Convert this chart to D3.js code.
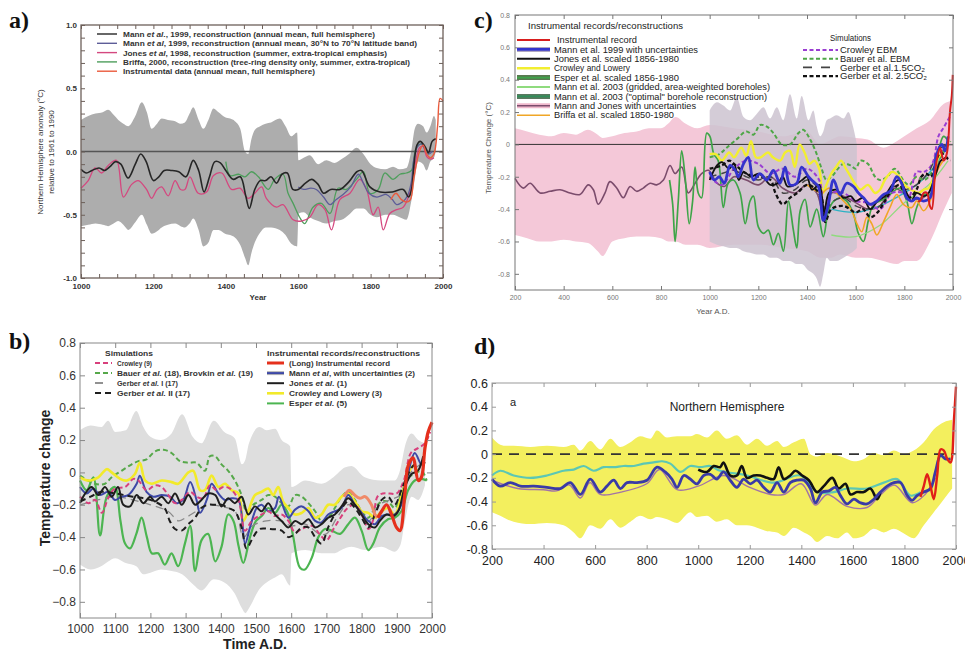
<!DOCTYPE html>
<html>
<head>
<meta charset="utf-8">
<script src="https://cdn.jsdelivr.net/npm/d3@7"></script>
<style>
body { margin: 0; background: #fff; }
svg { display: block; }
text { font-family: "Liberation Sans", Arial, sans-serif; }
</style>
</head>
<body>
<script>
// ---------------- panel a) data ----------------
const aXTicks = [1000, 1200, 1400, 1600, 1800, 2000];
const aYTicks = [-1, -0.5, 0, 0.5, 1];
// [year, lower, upper]
const aBand = [[1000,-0.59,0.25],[1020,-0.58,0.28],[1040,-0.57,0.3],[1060,-0.58,0.31],[1075,-0.59,0.33],[1090,-0.57,0.29],[1103,-0.55,0.25],[1117,-0.58,0.22],[1131,-0.62,0.2],[1150,-0.56,0.28],[1168,-0.5,0.39],[1182,-0.58,0.31],[1195,-0.65,0.18],[1210,-0.63,0.22],[1223,-0.6,0.26],[1240,-0.58,0.25],[1260,-0.57,0.24],[1275,-0.59,0.22],[1287,-0.6,0.23],[1300,-0.57,0.3],[1310,-0.53,0.35],[1325,-0.62,0.25],[1338,-0.75,0.18],[1352,-0.72,0.25],[1366,-0.62,0.34],[1380,-0.62,0.31],[1398,-0.65,0.27],[1412,-0.66,0.26],[1425,-0.68,0.24],[1440,-0.74,0.18],[1453,-0.84,0.0],[1462,-0.9,-0.02],[1471,-0.8,0.1],[1480,-0.72,0.17],[1495,-0.64,0.2],[1510,-0.6,0.22],[1525,-0.6,0.23],[1549,-0.62,0.26],[1565,-0.66,0.2],[1581,-0.73,0.12],[1597,-0.75,0.15],[1601,-0.49,-0.07],[1615,-0.48,-0.05],[1632,-0.52,-0.03],[1655,-0.55,-0.1],[1678,-0.57,-0.07],[1700,-0.55,-0.09],[1720,-0.54,-0.06],[1740,-0.5,-0.02],[1761,-0.45,0.03],[1780,-0.45,-0.02],[1800,-0.5,-0.1],[1817,-0.52,-0.13],[1840,-0.5,-0.14],[1862,-0.5,-0.12],[1880,-0.52,-0.14],[1899,-0.54,-0.13],[1912,-0.4,0.0],[1922,-0.22,0.18],[1931,-0.08,0.22],[1945,-0.1,0.2],[1955,-0.15,0.15],[1965,-0.08,0.2],[1975,-0.05,0.28],[1980,0.0,0.25]];
const aMannNH = [[1000,-0.14],[1015,-0.17],[1030,-0.15],[1050,-0.13],[1065,-0.15],[1080,-0.12],[1095,-0.08],[1110,-0.1],[1130,-0.21],[1150,-0.1],[1165,-0.02],[1180,-0.08],[1200,-0.23],[1215,-0.2],[1230,-0.15],[1250,-0.15],[1270,-0.16],[1290,-0.2],[1310,-0.07],[1325,-0.15],[1340,-0.32],[1355,-0.2],[1370,-0.08],[1385,-0.09],[1400,-0.15],[1420,-0.22],[1440,-0.2],[1455,-0.35],[1465,-0.45],[1480,-0.3],[1495,-0.23],[1510,-0.23],[1525,-0.2],[1540,-0.25],[1555,-0.18],[1570,-0.17],[1585,-0.3],[1600,-0.3],[1620,-0.25],[1637,-0.22],[1655,-0.26],[1670,-0.33],[1690,-0.3],[1715,-0.3],[1740,-0.24],[1762,-0.16],[1775,-0.15],[1798,-0.28],[1826,-0.32],[1860,-0.32],[1890,-0.3],[1905,-0.36],[1913,-0.3],[1920,-0.1],[1928,0.05],[1937,0.08],[1950,0.04],[1960,-0.01],[1970,0.08],[1980,0.1]];
const aMannBand = [[1600,-0.28],[1615,-0.3],[1635,-0.29],[1650,-0.3],[1670,-0.36],[1688,-0.42],[1705,-0.38],[1724,-0.34],[1745,-0.28],[1766,-0.18],[1780,-0.25],[1795,-0.33],[1817,-0.36],[1844,-0.34],[1860,-0.38],[1872,-0.42],[1888,-0.4],[1902,-0.35],[1912,-0.25],[1920,-0.05],[1930,0.04],[1940,0.06],[1950,0.02],[1960,-0.02],[1970,0.0]];
const aJones = [[1000,-0.29],[1020,-0.23],[1039,-0.13],[1057,-0.17],[1075,-0.11],[1098,-0.07],[1117,-0.36],[1140,-0.26],[1158,-0.23],[1181,-0.3],[1195,-0.37],[1210,-0.3],[1223,-0.28],[1241,-0.35],[1260,-0.23],[1275,-0.3],[1287,-0.3],[1301,-0.2],[1324,-0.33],[1347,-0.32],[1366,-0.19],[1389,-0.17],[1416,-0.3],[1439,-0.29],[1462,-0.37],[1480,-0.33],[1499,-0.28],[1512,-0.37],[1540,-0.44],[1558,-0.42],[1586,-0.54],[1609,-0.55],[1632,-0.52],[1655,-0.42],[1674,-0.46],[1692,-0.62],[1715,-0.38],[1743,-0.33],[1770,-0.22],[1789,-0.3],[1807,-0.5],[1821,-0.44],[1835,-0.62],[1853,-0.49],[1872,-0.46],[1890,-0.44],[1908,-0.33],[1920,-0.15],[1935,0.03],[1945,0.04],[1955,-0.04],[1965,-0.06],[1975,-0.05]];
const aBriffa = [[1400,-0.08],[1412,-0.19],[1435,-0.18],[1453,-0.2],[1471,-0.16],[1490,-0.2],[1517,-0.3],[1535,-0.22],[1558,-0.18],[1572,-0.33],[1586,-0.41],[1604,-0.52],[1618,-0.57],[1641,-0.44],[1664,-0.41],[1688,-0.49],[1710,-0.29],[1733,-0.3],[1761,-0.22],[1780,-0.16],[1798,-0.33],[1821,-0.3],[1839,-0.17],[1862,-0.22],[1881,-0.18],[1899,-0.17],[1913,-0.15],[1925,0.02],[1940,0.06],[1955,0.0],[1960,-0.02]];
const aInstr = [[1856,-0.38],[1870,-0.33],[1885,-0.38],[1900,-0.4],[1910,-0.38],[1920,-0.2],[1935,0.0],[1945,0.05],[1955,-0.02],[1965,-0.05],[1975,-0.02],[1985,0.2],[1992,0.42],[2000,0.4]];

// ---------------- panel b) data ----------------
const bXTicks = [1000,1100,1200,1300,1400,1500,1600,1700,1800,1900,2000];
const bYTicks = [-0.8,-0.6,-0.4,-0.2,0,0.2,0.4,0.6,0.8];
const bBand = [[1000,-0.57,0.26],[1030,-0.6,0.29],[1060,-0.58,0.28],[1080,-0.55,0.32],[1100,-0.53,0.25],[1130,-0.56,0.26],[1160,-0.58,0.38],[1180,-0.63,0.28],[1200,-0.62,0.22],[1230,-0.6,0.2],[1260,-0.61,0.24],[1290,-0.63,0.36],[1320,-0.69,0.22],[1345,-0.73,0.18],[1380,-0.66,0.32],[1410,-0.68,0.25],[1440,-0.75,0.21],[1460,-0.84,0.05],[1470,-0.87,0.08],[1480,-0.84,0.18],[1510,-0.72,0.28],[1530,-0.68,0.26],[1554,-0.65,0.27],[1573,-0.63,0.2],[1597,-0.7,0.16],[1601,-0.5,-0.09],[1640,-0.48,-0.05],[1686,-0.5,-0.07],[1720,-0.5,-0.03],[1752,-0.47,0.03],[1771,-0.46,0.04],[1809,-0.48,-0.03],[1856,-0.46,-0.05],[1894,-0.49,-0.05],[1910,-0.45,0.02],[1923,-0.3,0.16],[1942,-0.15,0.24],[1961,-0.17,0.2],[1980,-0.08,0.18]];
const bEsper = [[1000,-0.05],[1019,-0.11],[1038,-0.03],[1057,-0.39],[1076,-0.15],[1099,-0.09],[1115,-0.3],[1128,-0.44],[1142,-0.47],[1160,-0.38],[1175,-0.28],[1190,-0.4],[1204,-0.5],[1222,-0.5],[1241,-0.57],[1260,-0.5],[1279,-0.58],[1298,-0.44],[1313,-0.33],[1327,-0.61],[1345,-0.42],[1364,-0.38],[1384,-0.55],[1402,-0.46],[1421,-0.26],[1436,-0.3],[1450,-0.45],[1464,-0.56],[1483,-0.4],[1500,-0.3],[1516,-0.27],[1535,-0.22],[1554,-0.25],[1573,-0.2],[1592,-0.26],[1606,-0.4],[1625,-0.59],[1639,-0.6],[1658,-0.53],[1677,-0.4],[1696,-0.35],[1715,-0.36],[1739,-0.38],[1762,-0.32],[1781,-0.28],[1800,-0.36],[1819,-0.48],[1833,-0.44],[1852,-0.34],[1875,-0.29],[1894,-0.28],[1913,-0.24],[1932,-0.11],[1951,-0.05],[1970,-0.04],[1985,-0.05]];
const bCrowleyLowery = [[1000,-0.03],[1024,-0.05],[1052,-0.03],[1076,0.02],[1090,0.0],[1114,-0.04],[1133,-0.05],[1156,-0.01],[1170,0.06],[1185,-0.05],[1204,-0.07],[1232,-0.05],[1260,-0.06],[1279,-0.07],[1308,0.0],[1322,0.01],[1341,-0.11],[1355,-0.11],[1374,-0.02],[1393,-0.09],[1412,-0.07],[1431,-0.11],[1450,-0.13],[1464,-0.3],[1478,-0.24],[1497,-0.14],[1516,-0.12],[1535,-0.1],[1549,-0.14],[1563,-0.09],[1577,-0.18],[1592,-0.22],[1611,-0.26],[1630,-0.25],[1649,-0.22],[1668,-0.28],[1686,-0.26],[1705,-0.2],[1724,-0.2],[1743,-0.15],[1762,-0.13],[1781,-0.18],[1800,-0.24],[1819,-0.25],[1838,-0.28],[1857,-0.24],[1875,-0.22],[1894,-0.26],[1913,-0.15],[1932,-0.01],[1946,0.04],[1960,0.0]];
const bMann = [[1000,-0.09],[1019,-0.13],[1038,-0.1],[1057,-0.14],[1080,-0.12],[1099,-0.17],[1118,-0.15],[1137,-0.14],[1161,-0.07],[1170,-0.02],[1189,-0.12],[1208,-0.15],[1232,-0.14],[1256,-0.15],[1275,-0.19],[1293,-0.17],[1313,-0.06],[1331,-0.17],[1341,-0.25],[1360,-0.17],[1374,-0.07],[1393,-0.13],[1412,-0.17],[1431,-0.16],[1450,-0.17],[1469,-0.44],[1483,-0.34],[1502,-0.22],[1516,-0.2],[1535,-0.24],[1554,-0.22],[1565,-0.15],[1592,-0.28],[1611,-0.23],[1630,-0.21],[1649,-0.24],[1668,-0.3],[1686,-0.31],[1705,-0.26],[1724,-0.24],[1743,-0.22],[1762,-0.14],[1781,-0.2],[1800,-0.25],[1819,-0.3],[1838,-0.32],[1857,-0.27],[1875,-0.26],[1894,-0.26],[1913,-0.2],[1932,-0.01],[1951,0.12],[1970,0.05],[1980,0.16]];
const bJones = [[1000,-0.19],[1015,-0.13],[1033,-0.09],[1052,-0.14],[1071,-0.09],[1090,-0.15],[1108,-0.09],[1123,-0.2],[1142,-0.21],[1161,-0.14],[1180,-0.19],[1199,-0.15],[1213,-0.18],[1232,-0.15],[1251,-0.19],[1270,-0.13],[1289,-0.2],[1308,-0.14],[1327,-0.2],[1345,-0.17],[1364,-0.13],[1384,-0.14],[1402,-0.21],[1421,-0.16],[1440,-0.19],[1459,-0.15],[1478,-0.26],[1497,-0.21],[1516,-0.24],[1535,-0.19],[1554,-0.26],[1573,-0.3],[1592,-0.34],[1611,-0.3],[1630,-0.32],[1649,-0.29],[1668,-0.34],[1686,-0.32],[1705,-0.28],[1724,-0.26],[1743,-0.21],[1762,-0.16],[1781,-0.2],[1800,-0.26],[1819,-0.32],[1838,-0.34],[1852,-0.3],[1871,-0.26],[1890,-0.27],[1904,-0.24],[1923,-0.09],[1942,-0.01],[1960,0.01],[1975,0.1]];
const bInstrLong = [[1750,-0.15],[1765,-0.11],[1780,-0.14],[1795,-0.16],[1810,-0.15],[1828,-0.2],[1838,-0.26],[1846,-0.28]];
const bInstr = [[1846,-0.28],[1857,-0.24],[1871,-0.2],[1885,-0.26],[1899,-0.34],[1909,-0.36],[1923,-0.13],[1932,0.04],[1946,0.09],[1961,-0.05],[1970,-0.03],[1980,0.15],[1989,0.25],[2000,0.31]];
const bCrowley = [[1000,-0.15],[1024,-0.19],[1043,-0.17],[1062,-0.25],[1080,-0.16],[1099,-0.1],[1128,-0.09],[1152,-0.04],[1166,-0.05],[1189,-0.11],[1213,-0.08],[1232,-0.09],[1251,-0.14],[1270,-0.19],[1289,-0.17],[1313,-0.12],[1331,-0.15],[1350,-0.16],[1369,-0.08],[1388,-0.11],[1407,-0.09],[1426,-0.1],[1450,-0.17],[1469,-0.36],[1488,-0.3],[1516,-0.26],[1535,-0.24],[1554,-0.27],[1573,-0.26],[1592,-0.3],[1611,-0.37],[1630,-0.35],[1660,-0.33],[1680,-0.38],[1700,-0.42],[1720,-0.35],[1740,-0.28],[1760,-0.22],[1780,-0.2],[1800,-0.26],[1820,-0.35],[1832,-0.3],[1845,-0.15],[1860,-0.13],[1880,-0.13],[1900,-0.13],[1920,-0.05],[1940,0.12],[1960,0.15],[1980,0.18],[1995,0.25]];
const bBauer = [[1000,-0.02],[1043,-0.07],[1071,-0.07],[1090,-0.03],[1118,0.01],[1147,0.05],[1166,0.07],[1189,0.08],[1213,0.13],[1237,0.14],[1260,0.12],[1284,0.07],[1308,0.06],[1331,0.06],[1355,0.01],[1369,0.1],[1384,0.1],[1402,0.05],[1421,0.01],[1440,-0.05],[1459,-0.14],[1473,-0.24],[1492,-0.2],[1516,-0.17],[1535,-0.14],[1554,-0.15],[1573,-0.19],[1592,-0.21],[1611,-0.14],[1630,-0.15],[1649,-0.19],[1668,-0.24],[1686,-0.3],[1705,-0.28],[1724,-0.22],[1743,-0.15],[1762,-0.12],[1781,-0.17],[1800,-0.24],[1819,-0.28],[1838,-0.22],[1857,-0.18],[1875,-0.18],[1894,-0.22],[1913,-0.13],[1932,-0.03],[1951,-0.01],[1970,0.01],[1985,-0.05]];
const bGerberI = [[1000,-0.2],[1050,-0.17],[1100,-0.15],[1150,-0.17],[1200,-0.2],[1250,-0.24],[1280,-0.3],[1300,-0.28],[1330,-0.24],[1360,-0.2],[1400,-0.21],[1440,-0.24],[1465,-0.4],[1490,-0.33],[1530,-0.3],[1570,-0.3],[1600,-0.33],[1640,-0.32],[1680,-0.38],[1700,-0.38],[1730,-0.28],[1760,-0.2],[1790,-0.22],[1820,-0.3],[1850,-0.2],[1880,-0.17],[1910,-0.14],[1940,0.0],[1970,0.05],[1985,0.05]];
const bGerberII = [[1000,-0.18],[1030,-0.15],[1060,-0.12],[1100,-0.13],[1150,-0.15],[1200,-0.17],[1240,-0.22],[1255,-0.3],[1270,-0.35],[1289,-0.36],[1308,-0.32],[1327,-0.28],[1345,-0.22],[1364,-0.2],[1384,-0.2],[1402,-0.2],[1421,-0.22],[1440,-0.24],[1459,-0.34],[1473,-0.47],[1492,-0.4],[1510,-0.35],[1540,-0.35],[1573,-0.36],[1592,-0.4],[1611,-0.38],[1630,-0.34],[1649,-0.34],[1668,-0.4],[1686,-0.44],[1705,-0.34],[1724,-0.26],[1743,-0.22],[1762,-0.18],[1781,-0.22],[1800,-0.28],[1819,-0.34],[1838,-0.26],[1857,-0.17],[1875,-0.15],[1894,-0.2],[1913,-0.11],[1932,-0.01],[1951,0.05],[1970,0.05],[1985,0.07]];

// ---------------- panel c) data ----------------
const cXTicks = [200,400,600,800,1000,1200,1400,1600,1800,2000];
const cYTicks = [-0.8,-0.6,-0.4,-0.2,0,0.2,0.4,0.6,0.8];
const cPinkBand = [[200,-0.56,0.1],[250,-0.58,0.08],[300,-0.6,0.06],[350,-0.6,0.05],[400,-0.59,0.07],[450,-0.6,0.06],[500,-0.61,0.09],[540,-0.66,0.06],[560,-0.69,0.04],[600,-0.6,0.05],[650,-0.58,0.07],[700,-0.57,0.08],[750,-0.57,0.1],[800,-0.58,0.1],[830,-0.6,0.13],[860,-0.6,0.17],[900,-0.62,0.13],[950,-0.62,0.1],[1000,-0.64,0.12],[1100,-0.62,0.1],[1200,-0.62,0.08],[1300,-0.64,0.05],[1400,-0.66,0.08],[1454,-0.7,0.0],[1500,-0.7,0.03],[1536,-0.68,0.05],[1600,-0.7,0.04],[1650,-0.7,0.03],[1714,-0.72,-0.02],[1769,-0.74,0.02],[1800,-0.72,0.05],[1851,-0.72,0.1],[1906,-0.6,0.15],[1961,-0.41,0.25],[1995,-0.3,0.27]];
const cGrayBand = [[1000,-0.6,0.21],[1030,-0.62,0.26],[1056,-0.63,0.24],[1084,-0.64,0.21],[1111,-0.64,0.29],[1139,-0.66,0.17],[1166,-0.67,0.15],[1194,-0.68,0.19],[1221,-0.68,0.23],[1248,-0.7,0.16],[1276,-0.7,0.23],[1303,-0.72,0.15],[1330,-0.72,0.31],[1358,-0.74,0.16],[1378,-0.74,0.3],[1406,-0.78,0.15],[1426,-0.8,0.21],[1440,-0.83,0.11],[1454,-0.88,0.05],[1467,-0.8,0.08],[1481,-0.7,0.15],[1495,-0.72,0.16],[1522,-0.72,0.18],[1550,-0.7,0.16],[1570,-0.68,0.2],[1591,-0.66,0.1],[1605,-0.64,0.0]];
const cMannJones = [[200,-0.21],[234,-0.27],[262,-0.24],[303,-0.3],[344,-0.29],[385,-0.28],[426,-0.3],[467,-0.31],[501,-0.25],[522,-0.28],[542,-0.37],[570,-0.3],[590,-0.23],[618,-0.27],[645,-0.33],[673,-0.26],[700,-0.29],[727,-0.27],[755,-0.24],[782,-0.25],[810,-0.22],[837,-0.13],[858,-0.18],[885,-0.14],[912,-0.3],[940,-0.24],[967,-0.18],[995,-0.16],[1030,-0.24],[1060,-0.26],[1100,-0.2],[1150,-0.22],[1200,-0.25],[1250,-0.2],[1300,-0.27],[1350,-0.3],[1400,-0.25],[1440,-0.3],[1470,-0.44],[1500,-0.3],[1550,-0.32],[1600,-0.36],[1650,-0.4],[1700,-0.38],[1750,-0.27],[1800,-0.3],[1850,-0.34],[1900,-0.3],[1940,-0.1],[1980,0.02]];
const cEsper = [[835,-0.22],[848,-0.37],[858,-0.6],[871,-0.35],[885,-0.04],[899,-0.2],[916,-0.49],[930,-0.35],[940,-0.14],[953,-0.3],[967,-0.33],[988,0.07],[1001,0.05],[1017,-0.06],[1035,-0.1],[1056,-0.39],[1076,-0.24],[1098,-0.22],[1125,-0.3],[1146,-0.49],[1166,-0.35],[1180,-0.32],[1200,-0.51],[1221,-0.55],[1241,-0.53],[1262,-0.62],[1282,-0.55],[1303,-0.66],[1324,-0.35],[1344,-0.53],[1358,-0.64],[1372,-0.41],[1392,-0.34],[1413,-0.51],[1440,-0.4],[1467,-0.57],[1488,-0.41],[1510,-0.35],[1536,-0.33],[1563,-0.35],[1591,-0.43],[1611,-0.55],[1632,-0.6],[1652,-0.47],[1673,-0.37],[1700,-0.35],[1728,-0.33],[1755,-0.29],[1783,-0.27],[1810,-0.35],[1831,-0.49],[1851,-0.39],[1879,-0.31],[1906,-0.31],[1933,-0.1],[1961,0.05],[1981,0.02]];
const cMann2003Grid = [[1500,-0.56],[1600,-0.57],[1700,-0.5],[1800,-0.36],[1900,-0.25],[1980,-0.1]];
const cMann2003Opt = [[1500,-0.4],[1600,-0.42],[1700,-0.38],[1800,-0.3],[1850,-0.25],[1900,-0.18],[1950,-0.08],[1980,0.0]];
const cBriffa = [[1400,-0.25],[1430,-0.28],[1460,-0.3],[1490,-0.27],[1520,-0.3],[1550,-0.35],[1580,-0.4],[1605,-0.49],[1625,-0.54],[1646,-0.45],[1666,-0.49],[1687,-0.56],[1714,-0.48],[1741,-0.39],[1769,-0.31],[1796,-0.37],[1831,-0.39],[1851,-0.35],[1879,-0.41],[1906,-0.35],[1933,-0.17],[1960,-0.1]];
const cCrowleyLowery = [[1000,-0.06],[1025,-0.06],[1050,-0.1],[1080,-0.05],[1100,-0.08],[1130,-0.02],[1150,-0.07],[1170,0.02],[1190,-0.08],[1210,-0.08],[1240,-0.05],[1260,-0.08],[1290,-0.1],[1310,-0.05],[1330,-0.04],[1350,-0.14],[1370,0.0],[1390,-0.05],[1410,-0.12],[1430,-0.1],[1450,-0.15],[1465,-0.3],[1480,-0.25],[1500,-0.18],[1520,-0.14],[1540,-0.1],[1560,-0.15],[1580,-0.2],[1600,-0.25],[1620,-0.28],[1650,-0.25],[1680,-0.3],[1700,-0.28],[1720,-0.22],[1750,-0.17],[1780,-0.2],[1800,-0.25],[1830,-0.28],[1860,-0.3],[1880,-0.28],[1900,-0.27],[1920,-0.2],[1940,-0.08],[1960,-0.05]];
const cJones = [[1000,-0.22],[1030,-0.13],[1050,-0.11],[1080,-0.15],[1100,-0.12],[1120,-0.22],[1140,-0.17],[1170,-0.2],[1200,-0.18],[1220,-0.2],[1250,-0.25],[1280,-0.24],[1300,-0.2],[1320,-0.26],[1350,-0.25],[1380,-0.22],[1400,-0.2],[1420,-0.28],[1450,-0.25],[1470,-0.42],[1490,-0.3],[1520,-0.28],[1550,-0.33],[1580,-0.32],[1600,-0.35],[1630,-0.33],[1660,-0.4],[1690,-0.35],[1720,-0.32],[1750,-0.25],[1780,-0.22],[1800,-0.27],[1830,-0.35],[1850,-0.3],[1880,-0.32],[1900,-0.3],[1930,-0.18],[1950,-0.1],[1980,-0.08]];
const cMann1999 = [[1000,-0.17],[1020,-0.22],[1040,-0.2],[1060,-0.24],[1084,-0.13],[1105,-0.16],[1118,-0.2],[1139,-0.12],[1159,-0.08],[1180,-0.22],[1207,-0.18],[1235,-0.22],[1262,-0.16],[1289,-0.24],[1310,-0.14],[1330,-0.25],[1358,-0.24],[1378,-0.14],[1406,-0.2],[1426,-0.23],[1447,-0.26],[1467,-0.47],[1488,-0.37],[1509,-0.22],[1536,-0.31],[1563,-0.24],[1591,-0.26],[1611,-0.3],[1632,-0.33],[1659,-0.37],[1687,-0.35],[1714,-0.31],[1741,-0.29],[1769,-0.2],[1789,-0.24],[1810,-0.33],[1831,-0.35],[1851,-0.33],[1879,-0.35],[1906,-0.33],[1933,-0.06],[1954,0.0],[1968,-0.04],[1980,0.05]];
const cInstr = [[1856,-0.35],[1865,-0.35],[1880,-0.3],[1893,-0.3],[1905,-0.38],[1913,-0.4],[1925,-0.2],[1933,-0.1],[1947,-0.02],[1961,-0.1],[1974,-0.06],[1988,0.21],[1995,0.3],[1999,0.43]];
const cCrowleyEBM = [[1000,-0.2],[1050,-0.25],[1100,-0.15],[1150,-0.1],[1200,-0.12],[1250,-0.18],[1300,-0.15],[1350,-0.2],[1400,-0.15],[1450,-0.22],[1470,-0.4],[1500,-0.3],[1550,-0.3],[1600,-0.35],[1650,-0.36],[1700,-0.4],[1750,-0.3],[1800,-0.3],[1820,-0.32],[1850,-0.17],[1880,-0.17],[1900,-0.15],[1920,-0.1],[1940,0.05],[1960,0.1],[1990,0.18]];
const cBauerEBM = [[1000,-0.08],[1040,-0.06],[1070,-0.02],[1110,0.03],[1150,0.08],[1180,0.06],[1207,0.12],[1235,0.11],[1262,0.07],[1296,0.0],[1330,0.0],[1365,0.07],[1385,0.09],[1413,0.03],[1440,-0.06],[1460,-0.15],[1480,-0.22],[1500,-0.2],[1550,-0.12],[1580,-0.13],[1600,-0.15],[1620,-0.1],[1650,-0.12],[1680,-0.2],[1700,-0.22],[1730,-0.2],[1760,-0.15],[1800,-0.23],[1820,-0.25],[1850,-0.2],[1880,-0.22],[1900,-0.2],[1930,-0.12],[1960,-0.05],[1990,0.02]];
const cGerber15 = [[1000,-0.2],[1050,-0.18],[1100,-0.16],[1150,-0.2],[1200,-0.22],[1250,-0.2],[1300,-0.3],[1350,-0.28],[1400,-0.22],[1450,-0.28],[1475,-0.42],[1500,-0.36],[1550,-0.33],[1600,-0.38],[1650,-0.4],[1700,-0.38],[1750,-0.26],[1800,-0.28],[1850,-0.25],[1900,-0.17],[1950,-0.02],[1990,0.0]];
const cGerber25 = [[1000,-0.15],[1050,-0.13],[1080,-0.1],[1100,-0.12],[1150,-0.18],[1200,-0.2],[1250,-0.22],[1270,-0.3],[1300,-0.37],[1330,-0.33],[1360,-0.3],[1400,-0.25],[1430,-0.27],[1460,-0.33],[1475,-0.48],[1500,-0.4],[1550,-0.38],[1600,-0.42],[1630,-0.4],[1660,-0.45],[1690,-0.42],[1720,-0.35],[1750,-0.28],[1780,-0.25],[1800,-0.3],[1820,-0.33],[1850,-0.28],[1870,-0.2],[1890,-0.18],[1910,-0.2],[1930,-0.1],[1950,-0.05],[1970,-0.08],[1990,-0.1]];

// ---------------- panel d) data ----------------
const dXTicks = [200,400,600,800,1000,1200,1400,1600,1800,2000];
const dYTicks = [-0.8,-0.6,-0.4,-0.2,0,0.2,0.4,0.6];
const dBand = [[200,-0.49,0.14],[232,-0.52,0.08],[258,-0.55,0.07],[284,-0.57,0.07],[349,-0.59,0.06],[413,-0.58,0.07],[478,-0.6,0.06],[517,-0.66,0.08],[543,-0.71,0.03],[581,-0.6,0.11],[620,-0.63,0.04],[659,-0.55,0.13],[698,-0.62,0.06],[737,-0.57,0.1],[775,-0.52,0.15],[814,-0.55,0.13],[840,-0.53,0.2],[879,-0.55,0.14],[918,-0.58,0.15],[969,-0.49,0.15],[995,-0.53,0.17],[1034,-0.52,0.14],[1072,-0.57,0.2],[1111,-0.55,0.13],[1150,-0.6,0.16],[1189,-0.6,0.08],[1228,-0.62,0.13],[1267,-0.65,0.07],[1306,-0.66,0.11],[1332,-0.69,0.06],[1371,-0.62,0.1],[1410,-0.66,0.13],[1435,-0.69,0.0],[1461,-0.74,-0.02],[1500,-0.69,0.01],[1539,-0.71,-0.01],[1577,-0.66,-0.04],[1604,-0.71,-0.06],[1643,-0.69,-0.04],[1681,-0.63,0.01],[1720,-0.66,-0.01],[1759,-0.63,0.03],[1798,-0.67,0.0],[1836,-0.71,0.03],[1875,-0.6,0.1],[1914,-0.49,0.21],[1953,-0.38,0.27],[1985,-0.29,0.29]];
const dTeal = [[200,-0.18],[232,-0.14],[284,-0.18],[349,-0.2],[413,-0.18],[478,-0.14],[517,-0.13],[556,-0.1],[594,-0.14],[633,-0.11],[672,-0.11],[711,-0.1],[750,-0.1],[788,-0.08],[827,-0.07],[860,-0.06],[892,-0.08],[931,-0.15],[969,-0.1],[1008,-0.11],[1047,-0.1],[1085,-0.14],[1189,-0.18],[1293,-0.24],[1396,-0.18],[1461,-0.32],[1526,-0.32],[1577,-0.29],[1655,-0.29],[1720,-0.24],[1772,-0.21],[1823,-0.35],[1862,-0.32]];
const dViolet = [[200,-0.22],[300,-0.29],[400,-0.3],[450,-0.31],[500,-0.26],[543,-0.37],[580,-0.24],[620,-0.34],[700,-0.32],[800,-0.25],[850,-0.13],[918,-0.3],[1000,-0.27],[1100,-0.18],[1200,-0.28],[1280,-0.34],[1332,-0.34],[1400,-0.25],[1455,-0.43],[1500,-0.34],[1577,-0.44],[1655,-0.45],[1700,-0.36],[1760,-0.26],[1830,-0.41],[1880,-0.34],[1920,-0.2]];
const dBlue = [[200,-0.21],[232,-0.27],[271,-0.24],[310,-0.27],[362,-0.27],[413,-0.28],[465,-0.29],[504,-0.24],[543,-0.34],[581,-0.21],[620,-0.32],[646,-0.27],[672,-0.22],[698,-0.29],[724,-0.24],[763,-0.24],[801,-0.22],[840,-0.11],[872,-0.15],[898,-0.21],[918,-0.28],[944,-0.18],[969,-0.21],[995,-0.25],[1021,-0.18],[1047,-0.17],[1072,-0.21],[1098,-0.15],[1124,-0.22],[1150,-0.28],[1176,-0.21],[1202,-0.25],[1228,-0.22],[1254,-0.28],[1280,-0.32],[1306,-0.24],[1332,-0.32],[1357,-0.24],[1383,-0.22],[1410,-0.22],[1435,-0.29],[1455,-0.41],[1481,-0.32],[1507,-0.31],[1532,-0.28],[1552,-0.35],[1577,-0.42],[1604,-0.38],[1629,-0.41],[1655,-0.42],[1681,-0.38],[1707,-0.32],[1733,-0.27],[1759,-0.24],[1785,-0.24],[1811,-0.35],[1830,-0.39],[1849,-0.35],[1875,-0.32],[1901,-0.29],[1920,-0.15],[1940,-0.01],[1959,-0.04],[1979,-0.04]];
const dBlack = [[1000,-0.13],[1034,-0.15],[1060,-0.1],[1085,-0.11],[1098,-0.07],[1124,-0.18],[1150,-0.18],[1169,-0.1],[1189,-0.2],[1215,-0.18],[1241,-0.18],[1267,-0.2],[1293,-0.21],[1312,-0.11],[1332,-0.21],[1357,-0.18],[1377,-0.14],[1403,-0.18],[1429,-0.22],[1461,-0.32],[1487,-0.27],[1520,-0.2],[1545,-0.29],[1571,-0.25],[1591,-0.34],[1616,-0.32],[1642,-0.32],[1668,-0.29],[1694,-0.38],[1707,-0.32]];
const dRed = [[1862,-0.36],[1875,-0.27],[1888,-0.17],[1901,-0.27],[1914,-0.38],[1927,-0.18],[1940,0.04],[1953,0.03],[1966,-0.04],[1979,-0.07],[1992,0.29],[2000,0.57]];

// ---------------- helpers ----------------
const svg = d3.select("body").append("svg").attr("width", 965).attr("height", 654);
svg.append("rect").attr("width", 965).attr("height", 654).attr("fill", "#fff");

const smooth = d3.curveCatmullRom.alpha(0.5);

function drawBand(g, x, y, data, fill, opacity) {
  const area = d3.area().x(d => x(d[0])).y0(d => y(d[1])).y1(d => y(d[2])).curve(d3.curveMonotoneX);
  g.append("path").datum(data).attr("d", area).attr("fill", fill).attr("opacity", opacity || 1);
}

function drawLine(g, x, y, data, color, width, dash) {
  const line = d3.line().x(d => x(d[0])).y(d => y(d[1])).curve(smooth);
  g.append("path").datum(data).attr("d", line)
    .attr("fill", "none").attr("stroke", color).attr("stroke-width", width)
    .attr("stroke-dasharray", dash || null).attr("stroke-linejoin", "round");
}

function drawAxes(g, x, y, o) {
  const x0 = x.range()[0], x1 = x.range()[1], y0 = y.range()[0], y1 = y.range()[1];
  const parts = [
    g.append("g").attr("transform", `translate(0,${y0})`)
      .call(d3.axisBottom(x).tickValues(o.xTicks).tickSize(-o.tick).tickPadding(o.xPad).tickFormat(o.xFmt)),
    g.append("g").attr("transform", `translate(0,${y1})`)
      .call(d3.axisTop(x).tickValues(o.xTicks).tickSize(-o.tick).tickFormat("")),
    g.append("g").attr("transform", `translate(${x0},0)`)
      .call(d3.axisLeft(y).tickValues(o.yTicks).tickSize(-o.tick).tickPadding(o.yPad).tickFormat(o.yFmt)),
    g.append("g").attr("transform", `translate(${x1},0)`)
      .call(d3.axisRight(y).tickValues(o.yTicks).tickSize(-o.tick).tickFormat(""))
  ];
  parts.forEach(a => {
    a.select(".domain").remove();
    a.selectAll("line").attr("stroke", o.color).attr("stroke-width", 1);
    a.selectAll("text").attr("fill", o.textColor)
      .style("font-size", o.font + "px").style("font-weight", o.weight || "normal")
      .style("font-family", '"Liberation Sans", Arial, sans-serif');
  });
  g.append("rect").attr("x", x0).attr("y", y1).attr("width", x1 - x0).attr("height", y0 - y1)
    .attr("fill", "none").attr("stroke", o.color).attr("stroke-width", o.frame || 1);
}

// text made of [string, italic] parts, optionally stretched to a width
function richText(g, x, y, parts, o) {
  const t = g.append("text").attr("x", x).attr("y", y)
    .style("font-size", o.size + "px").style("font-weight", o.weight || "normal")
    .attr("fill", o.color || "#222");
  parts.forEach(p => t.append("tspan").text(p[0]).style("font-style", p[1] ? "italic" : "normal"));
  if (o.len) t.attr("textLength", o.len).attr("lengthAdjust", "spacingAndGlyphs");
  return t;
}

function panelLetter(txt, x, y) {
  svg.append("text").attr("x", x).attr("y", y).text(txt)
    .style("font-family", '"Liberation Serif", "DejaVu Serif", serif')
    .style("font-size", "24px").style("font-weight", "bold").attr("fill", "#111");
}

// ================= panel a =================
{
  const g = svg.append("g");
  const x = d3.scaleLinear().domain([1000, 2000]).range([81, 443]);
  const y = d3.scaleLinear().domain([-1, 1]).range([278, 25]);

  drawBand(g, x, y, aBand, "#adadad");
  g.append("line").attr("x1", x(1000)).attr("x2", x(2000)).attr("y1", y(0)).attr("y2", y(0))
    .attr("stroke", "#555").attr("stroke-width", 1.6);
  drawLine(g, x, y, aBriffa, "#4e9e5c", 1.3);
  drawLine(g, x, y, aJones, "#d4487f", 1.3);
  drawLine(g, x, y, aMannBand, "#5d5d98", 1.3);
  drawLine(g, x, y, aMannNH, "#262626", 1.6);
  drawLine(g, x, y, aInstr, "#ea5a3c", 1.4);

  drawAxes(g, x, y, {
    xTicks: d3.range(1000, 2001, 50), yTicks: d3.range(-10, 11).map(i => i / 10),
    xFmt: d => aXTicks.includes(d) ? d : "",
    yFmt: d => aYTicks.some(v => Math.abs(v - d) < 1e-9) ? d.toFixed(1).replace("−", "-") : "",
    tick: 4, xPad: 5, yPad: 4, color: "#6d605a", textColor: "#333", font: 8, weight: "bold", frame: 1.3
  });

  const legA = [
    ["#262626", [["Mann "], ["et al.", 1], [", 1999, reconstruction (annual mean, full hemisphere)"]], 252],
    ["#5d5d98", [["Mann "], ["et al", 1], [", 1999, reconstruction (annual mean, 30°N to 70°N latitude band)"]], 294],
    ["#d4487f", [["Jones "], ["et al", 1], [", 1998, reconstruction (summer, extra-tropical emphasis)"]], 264],
    ["#4e9e5c", [["Briffa, 2000, reconstruction (tree-ring density only, summer, extra-tropical)"]], 287],
    ["#ea5a3c", [["Instrumental data (annual mean, full hemisphere)"]], 192]
  ];
  legA.forEach((d, i) => {
    const yy = 34 + i * 9.3;
    g.append("line").attr("x1", 97).attr("x2", 117).attr("y1", yy).attr("y2", yy)
      .attr("stroke", d[0]).attr("stroke-width", 1.4);
    richText(g, 123, yy + 3, d[1], { size: 8, weight: "bold", color: "#333", len: d[2] });
  });

  g.append("text").attr("x", 258).attr("y", 300).attr("text-anchor", "middle").text("Year")
    .style("font-size", "8px").style("font-weight", "bold").attr("fill", "#333");
  g.append("text").attr("transform", "translate(43,152) rotate(-90)").attr("text-anchor", "middle")
    .text("Northern Hemisphere anomaly (°C)").style("font-size", "8px").attr("fill", "#333");
  g.append("text").attr("transform", "translate(54,152) rotate(-90)").attr("text-anchor", "middle")
    .text("relative to 1961 to 1990").style("font-size", "8px").attr("fill", "#333");
  panelLetter("a)", 9, 28);
}

// ================= panel b =================
{
  const g = svg.append("g");
  const x = d3.scaleLinear().domain([1000, 2000]).range([80, 432]);
  const y = d3.scaleLinear().domain([-0.9, 0.8]).range([618, 343]);

  drawBand(g, x, y, bBand, "#dedede");
  drawLine(g, x, y, bEsper, "#4cb551", 2.2);
  drawLine(g, x, y, bBauer, "#56a84a", 2, "5,3");
  drawLine(g, x, y, bCrowleyLowery, "#f2ea2a", 2.6);
  drawLine(g, x, y, bGerberI, "#8a8a8a", 1.3, "8,5");
  drawLine(g, x, y, bMann, "#3d48a6", 2);
  drawLine(g, x, y, bCrowley, "#d8407c", 2, "5,3");
  drawLine(g, x, y, bJones, "#1e1e1e", 2);
  drawLine(g, x, y, bGerberII, "#1e1e1e", 2, "6,4");
  drawLine(g, x, y, bInstrLong, "#f08a68", 3);
  drawLine(g, x, y, bInstr, "#e5301c", 3.2);

  drawAxes(g, x, y, {
    xTicks: bXTicks, yTicks: bYTicks,
    xFmt: d => d, yFmt: d => d === 0 ? "0" : d3.format(".1f")(d),
    tick: 5, xPad: 6, yPad: 4, color: "#888", textColor: "#333", font: 12, weight: "normal"
  });

  richText(g, 105, 356, [["Simulations"]], { size: 7.5, weight: "bold", color: "#333", len: 48 });
  const legB1 = [
    ["#d8407c", "5,3", 2, [["Crowley (9)"]], 35],
    ["#56a84a", "5,3", 2, [["Bauer "], ["et al.", 1], [" (18), Brovkin "], ["et al.", 1], [" (19)"]], 136],
    ["#555", "8,30", 1.3, [["Gerber "], ["et al.", 1], [" I (17)"]], 61],
    ["#1e1e1e", "6,4", 2, [["Gerber "], ["et al.", 1], [" II (17)"]], 73]
  ];
  legB1.forEach((d, i) => {
    const yy = 363 + i * 10;
    g.append("line").attr("x1", 95).attr("x2", 112).attr("y1", yy).attr("y2", yy)
      .attr("stroke", d[0]).attr("stroke-width", d[2]).attr("stroke-dasharray", d[1]);
    richText(g, 117, yy + 3, d[3], { size: 7.5, weight: "bold", color: "#333", len: d[4] });
  });
  richText(g, 267, 356, [["Instrumental records/reconstructions"]], { size: 7.5, weight: "bold", color: "#333", len: 153 });
  const legB2 = [
    ["#e5301c", 3, [["(Long) Instrumental record"]], 101],
    ["#3d48a6", 2, [["Mann "], ["et al", 1], [", with uncertainties (2)"]], 126],
    ["#1e1e1e", 2, [["Jones "], ["et al.", 1], [" (1)"]], 58],
    ["#f2ea2a", 2.6, [["Crowley and Lowery (3)"]], 93],
    ["#4cb551", 2, [["Esper "], ["et al.", 1], [" (5)"]], 58]
  ];
  legB2.forEach((d, i) => {
    const yy = 363 + i * 10.1;
    if (i === 1) {
      g.append("line").attr("x1", 267).attr("x2", 284).attr("y1", yy).attr("y2", yy)
        .attr("stroke", "#b8b8b8").attr("stroke-width", 4);
    }
    g.append("line").attr("x1", 267).attr("x2", 284).attr("y1", yy).attr("y2", yy)
      .attr("stroke", d[0]).attr("stroke-width", d[1]);
    richText(g, 289, yy + 3, d[2], { size: 7.5, weight: "bold", color: "#333", len: d[3] });
  });

  g.append("text").attr("x", 255).attr("y", 649).attr("text-anchor", "middle").text("Time A.D.")
    .style("font-size", "14px").style("font-weight", "bold").attr("fill", "#222");
  g.append("text").attr("transform", "translate(50,478) rotate(-90)").attr("text-anchor", "middle")
    .text("Temperature change").style("font-size", "14px").style("font-weight", "bold").attr("fill", "#222");
  panelLetter("b)", 9, 349);
}

// ================= panel c =================
{
  const g = svg.append("g");
  const x = d3.scaleLinear().domain([200, 2000]).range([515, 953]);
  const y = d3.scaleLinear().domain([-0.9, 0.8]).range([290, 15]);

  drawBand(g, x, y, cPinkBand, "#f4c8d8");
  drawBand(g, x, y, cGrayBand, "#cdc3d0", 0.85);
  g.append("line").attr("x1", x(200)).attr("x2", x(2000)).attr("y1", y(0)).attr("y2", y(0))
    .attr("stroke", "#333").attr("stroke-width", 1);
  drawLine(g, x, y, cMannJones, "#7b4c6c", 1.6);
  drawLine(g, x, y, cEsper, "#3ea548", 1.7);
  drawLine(g, x, y, cMann2003Grid, "#8fdb7e", 1.3);
  drawLine(g, x, y, cMann2003Opt, "#2cb2c4", 1.4);
  drawLine(g, x, y, cBauerEBM, "#4ea646", 2, "4,2.5");
  drawLine(g, x, y, cCrowleyLowery, "#f2ee30", 2.4);
  drawLine(g, x, y, cBriffa, "#f0a626", 1.6);
  drawLine(g, x, y, cCrowleyEBM, "#9a3ed2", 2, "4,2.5");
  drawLine(g, x, y, cGerber15, "#444", 1.5, "7,5");
  drawLine(g, x, y, cJones, "#111", 1.8);
  drawLine(g, x, y, cGerber25, "#111", 2.3, "4,2.5");
  drawLine(g, x, y, cMann1999, "#3434cc", 2.8);
  drawLine(g, x, y, cInstr, "#d81e1e", 2);

  drawAxes(g, x, y, {
    xTicks: cXTicks, yTicks: cYTicks,
    xFmt: d => d, yFmt: d => d === 0 ? "0" : d.toFixed(1),
    tick: 4, xPad: 5, yPad: 5, color: "#777", textColor: "#777", font: 7
  });

  richText(g, 528, 29, [["Instrumental records/reconstructions"]], { size: 9, color: "#222", len: 155 });
  const legC = [
    ["#d81e1e", 2, null, "Instrumental record", 557, 637],
    ["#3434cc", 2.6, "#b0a8c0", "Mann et al. 1999 with uncertainties", 554, 698],
    ["#111", 2, null, "Jones et al. scaled 1856-1980", 554, 679],
    ["#f2ee30", 2.4, null, "Crowley and Lowery", 554, 630],
    ["#3ea548", 1.8, "#5a7a50", "Esper et al. scaled 1856-1980", 554, 679],
    ["#8fdb7e", 1.8, null, "Mann et al. 2003 (gridded, area-weighted boreholes)", 554, 770],
    ["#2f8f5a", 1.8, "#5a7a60", "Mann et al. 2003 (\"optimal\" borehole reconstruction)", 554, 767],
    ["#7b4c6c", 1.6, "#f0b8cc", "Mann and Jones with uncertainties", 554, 696],
    ["#f0a626", 1.4, null, "Briffa et al. scaled 1850-1980", 554, 674]
  ];
  legC.forEach((d, i) => {
    const yy = 40 + i * 9.4;
    if (d[2]) {
      g.append("line").attr("x1", 517).attr("x2", 550).attr("y1", yy).attr("y2", yy)
        .attr("stroke", d[2]).attr("stroke-width", 5);
    }
    g.append("line").attr("x1", 517).attr("x2", 550).attr("y1", yy).attr("y2", yy)
      .attr("stroke", d[0]).attr("stroke-width", d[1]);
    richText(g, d[4], yy + 3.2, [[d[3]]], { size: 9, color: "#222", len: d[5] - d[4] });
  });

  richText(g, 830, 41, [["Simulations"]], { size: 8.5, color: "#222", len: 41 });
  const legC2 = [
    ["#9a3ed2", "4,2.5", 2, "Crowley EBM", 897],
    ["#4ea646", "4,2.5", 2, "Bauer et al. EBM", 910],
    ["#444", "9,9", 1.6, "Gerber et al.1.5CO₂", 925],
    ["#111", "4,2.5", 2.4, "Gerber et al. 2.5CO₂", 927]
  ];
  legC2.forEach((d, i) => {
    const yy = 50 + i * 8.7;
    g.append("line").attr("x1", 803).attr("x2", 838).attr("y1", yy).attr("y2", yy)
      .attr("stroke", d[0]).attr("stroke-width", d[2]).attr("stroke-dasharray", d[1]);
    richText(g, 840, yy + 3.2, [[d[3]]], { size: 9, color: "#222", len: d[4] - 840 });
  });

  g.append("text").attr("x", 713).attr("y", 314).attr("text-anchor", "middle").text("Year A.D.")
    .style("font-size", "8px").attr("fill", "#555");
  g.append("text").attr("transform", "translate(491,148) rotate(-90)").attr("text-anchor", "middle")
    .text("Temperature Change (°C)").style("font-size", "8px").attr("fill", "#555");
  panelLetter("c)", 474, 28);
}

// ================= panel d =================
{
  const g = svg.append("g");
  const x = d3.scaleLinear().domain([200, 2000]).range([492, 956]);
  const y = d3.scaleLinear().domain([-0.8, 0.6]).range([549, 383]);

  drawBand(g, x, y, dBand, "#f3ef5e");
  g.append("line").attr("x1", x(200)).attr("x2", x(2000)).attr("y1", y(0)).attr("y2", y(0))
    .attr("stroke", "#333").attr("stroke-width", 1.6).attr("stroke-dasharray", "10,7");
  drawLine(g, x, y, dTeal, "#5cc7b4", 2.2);
  drawLine(g, x, y, dViolet, "#a274a6", 1.4);
  drawLine(g, x, y, dBlack, "#111", 2.6);
  drawLine(g, x, y, dBlue, "#3a3aa6", 2.8);
  drawLine(g, x, y, dRed, "#e02018", 2.4);

  drawAxes(g, x, y, {
    xTicks: dXTicks, yTicks: dYTicks,
    xFmt: d => d, yFmt: d => d === 0 ? "0" : d.toFixed(1).replace("−", "-"),
    tick: 4, xPad: 7, yPad: 4, color: "#999", textColor: "#222", font: 12.5
  });

  g.append("text").attr("x", 510).attr("y", 406).text("a").style("font-size", "11px").attr("fill", "#222");
  g.append("text").attr("x", 727).attr("y", 411).attr("text-anchor", "middle").text("Northern Hemisphere")
    .style("font-size", "12px").attr("fill", "#222");
  panelLetter("d)", 474, 354);
}
</script>
</body>
</html>
